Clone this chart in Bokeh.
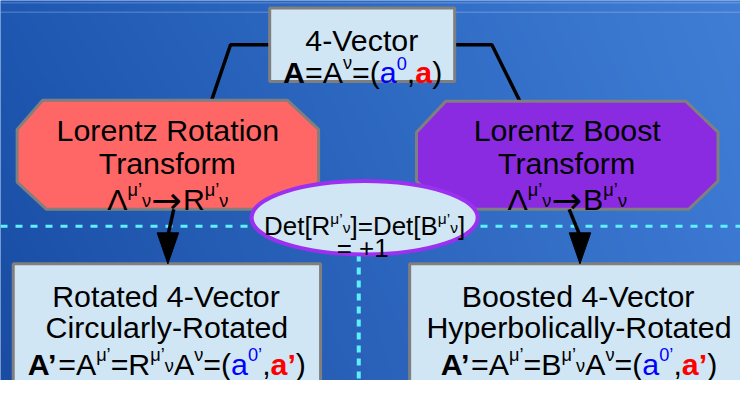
import numpy as np
from bokeh.plotting import figure
from bokeh.models import ColumnDataSource, Range1d
from bokeh.core.properties import value
from bokeh.embed import file_html
from bokeh.resources import INLINE

# ---------------- content (texts) ----------------
top_title = ["4-Vector"]
top_formula = [("A", "n", "k", 1), ("=A", "n", "k", 0), ("ν", "sup", "k", 0),
               ("=(", "n", "k", 0), ("a", "n", "b", 0), ("0", "sup", "b", 0),
               (",", "n", "k", 0), ("a", "n", "r", 1), (")", "n", "k", 0)]
rot_title = ["Lorentz Rotation", "Transform"]
rot_map = [("Λ", "n", "k", 0), ("μ’", "sup", "k", 0), ("ν", "sub", "k", 0),
           ("→", "arrow", "k", 0), ("R", "n", "k", 0), ("μ’", "sup", "k", 0),
           ("ν", "sub", "k", 0)]
boost_title = ["Lorentz Boost", "Transform"]
boost_map = [("Λ", "n", "k", 0), ("μ’", "sup", "k", 0), ("ν", "sub", "k", 0),
             ("→", "arrow", "k", 0), ("B", "n", "k", 0), ("μ’", "sup", "k", 0),
             ("ν", "sub", "k", 0)]
det_line1 = [("Det[R", "n", "k", 0), ("μ’", "sup", "k", 0), ("ν", "sub", "k", 0),
             ("]=Det[B", "n", "k", 0), ("μ’", "sup", "k", 0), ("ν", "sub", "k", 0),
             ("]", "n", "k", 0)]
det_line2 = "= +1"
rot_result_title = ["Rotated 4-Vector", "Circularly-Rotated"]
rot_result = [("A’", "n", "k", 1), ("=A", "n", "k", 0), ("μ’", "sup", "k", 0),
              ("=R", "n", "k", 0), ("μ’", "sup", "k", 0), ("ν", "sub", "k", 0),
              ("A", "n", "k", 0), ("ν", "sup", "k", 0), ("=(", "n", "k", 0),
              ("a", "n", "b", 0), ("0’", "sup", "b", 0), (",", "n", "k", 0),
              ("a’", "n", "r", 1), (")", "n", "k", 0)]
boost_result_title = ["Boosted 4-Vector", "Hyperbolically-Rotated"]
boost_result = [("A’", "n", "k", 1), ("=A", "n", "k", 0), ("μ’", "sup", "k", 0),
                ("=B", "n", "k", 0), ("μ’", "sup", "k", 0), ("ν", "sub", "k", 0),
                ("A", "n", "k", 0), ("ν", "sup", "k", 0), ("=(", "n", "k", 0),
                ("a", "n", "b", 0), ("0’", "sup", "b", 0), (",", "n", "k", 0),
                ("a’", "n", "r", 1), (")", "n", "k", 0)]

# ---------------- styling / layout ----------------
W_REF, H_REF = 756, 396
Y_BOTTOM = -8
PW, PH = 740, 380
SX = PW / W_REF
FONT = "Liberation Sans"
ARROW_FONT = "DejaVu Sans"
COLORS = {"k": "#000000", "b": "#0000ff", "r": "#ff0000"}
BOX_FILL = "#d0e6f4"
BORDER = "#7f7f7f"
RED_FILL = "#ff6666"
PURPLE_FILL = "#8a2be2"
ELLIPSE_LINE = "#9b30f0"
DASH = "#5ff0ff"

REG = {' ': 278, '(': 333, ')': 333, '+': 584, ',': 278, '-': 333, '=': 584,
       '[': 278, ']': 278, 'A': 667, 'B': 667, 'C': 722, 'D': 722, 'H': 722,
       'L': 556, 'R': 722, 'T': 611, 'V': 667, 'a': 556, 'b': 556, 'c': 500,
       'd': 556, 'e': 556, 'f': 278, 'h': 556, 'i': 222, 'l': 222, 'm': 833,
       'n': 556, 'o': 556, 'p': 556, 'r': 333, 's': 500, 't': 278, 'u': 556,
       'v': 500, 'y': 500, 'z': 500, 'μ': 576, 'ν': 500, 'Λ': 667,
       '’': 222}
BOLD = {'A': 722, 'a': 556, '’': 278}
for d in "0123456789":
    REG[d] = 556


def Y(y):
    return H_REF - y


def cw(ch, bold):
    if bold and ch in BOLD:
        return BOLD[ch]
    return REG.get(ch, 556)


src = {"x": [], "y": [], "text": [], "size": [], "color": [], "style": [], "font": []}


def layout(runs, cx, base, F):
    if isinstance(runs, str):
        runs = [(runs, "n", "k", 0)]
    items = []
    total = 0.0
    for t, kind, col, bold in runs:
        if kind == "n":
            fs = F
            w = sum(cw(c, bold) for c in t) * fs / 1000.0
        elif kind == "arrow":
            fs = F * 1.2
            w = 0.838 * fs + 0.04 * F
        else:
            fs = F * 0.6
            w = sum(cw(c, bold) for c in t) * fs / 1000.0
        items.append((t, kind, col, bold, fs, w))
        total += w
    x = cx - total / 2.0
    for t, kind, col, bold, fs, w in items:
        dy = 0.0
        if kind == "sup":
            dy = 0.33 * F
        elif kind == "sub":
            dy = -0.05 * F
        elif kind == "arrow":
            dy = -0.02 * F
        src["x"].append(x)
        src["y"].append(Y(base) + dy)
        src["text"].append(t)
        src["size"].append(f"{fs * SX:.2f}px")
        src["color"].append(COLORS[col])
        src["style"].append("bold" if bold else "normal")
        src["font"].append(ARROW_FONT if kind == "arrow" else FONT)
        x += w


p = figure(width=PW, height=PH, x_range=Range1d(0, W_REF), y_range=Range1d(Y_BOTTOM, H_REF),
           output_backend="svg", toolbar_location=None, min_border=0)
p.axis.visible = False
p.grid.visible = False
p.outline_line_color = None
p.background_fill_color = "#2a66c4"
p.border_fill_color = "#2a66c4"

# background gradient
GH, GW = 202, 378
yy = np.linspace(0, 1, GH)[:, None]
xx = np.linspace(0, 1, GW)[None, :]
TL = np.array([30, 88, 178]); TR = np.array([64, 126, 214])
BL = np.array([26, 76, 162]); BR = np.array([58, 118, 208])
img = np.empty((GH, GW), dtype=np.uint32)
view = img.view(dtype=np.uint8).reshape((GH, GW, 4))
for ch in range(3):
    c = (BL[ch] * (1 - xx) * (1 - yy) + BR[ch] * xx * (1 - yy)
         + TL[ch] * (1 - xx) * yy + TR[ch] * xx * yy)
    view[:, :, ch] = np.clip(c, 0, 255).astype(np.uint8)
view[:, :, 3] = 255
p.image_rgba(image=[img], x=0, y=Y_BOTTOM, dw=W_REF, dh=H_REF - Y_BOTTOM)

# faint stripes at top
for sy in (2.5, 12.5):
    p.line([0, W_REF], [Y(sy), Y(sy)], line_color="white", line_alpha=0.18, line_width=1.5)

# dashed guide lines
p.line([0, W_REF], [Y(240), Y(240)], line_color=DASH, line_width=3, line_dash="7 8")
p.line([366, 366], [Y(270), Y(410)], line_color=DASH, line_width=4, line_dash="7 6")

# connectors from top box
p.line([275, 235, 215], [Y(47), Y(47), Y(108)], line_color="black", line_width=3.5)
p.line([464, 502, 531], [Y(47), Y(47), Y(108)], line_color="black", line_width=3.5)

# boxes
p.quad(left=[275], right=[464], top=[Y(8)], bottom=[Y(86)],
       fill_color=BOX_FILL, line_color=BORDER, line_width=3)
p.quad(left=[13, 418], right=[327, 775], top=[Y(280), Y(280)], bottom=[Y(420), Y(420)],
       fill_color=BOX_FILL, line_color=BORDER, line_width=3)

# octagons
p.patch([43, 293, 325, 325, 295, 47, 17, 17],
        [Y(106), Y(106), Y(137), Y(193), Y(222), Y(222), Y(193), Y(137)],
        fill_color=RED_FILL, line_color=BORDER, line_width=3)
p.patch([455, 700, 733, 733, 703, 455, 425, 425],
        [Y(107), Y(107), Y(140), Y(192), Y(222), Y(222), Y(192), Y(140)],
        fill_color=PURPLE_FILL, line_color=BORDER, line_width=3)

# arrows
p.line([177, 171], [Y(222), Y(250)], line_color="black", line_width=3.5)
p.patch([160, 182, 171], [Y(247), Y(247), Y(280)], fill_color="black", line_color="black")
p.line([581, 592], [Y(222), Y(250)], line_color="black", line_width=3.5)
p.patch([581, 603, 592], [Y(247), Y(247), Y(280)], fill_color="black", line_color="black")

# ellipse
p.ellipse(x=[372], y=[Y(231)], width=[231], height=[78],
          fill_color=BOX_FILL, line_color=ELLIPSE_LINE, line_width=4)

# texts
layout(top_title[0], 370, 42, 31)
layout(top_formula, 370, 77, 31)
layout(rot_title[0], 171, 138, 31)
layout(rot_title[1], 171, 173, 31)
layout(rot_map, 171, 212, 31)
layout(boost_title[0], 579, 138, 31)
layout(boost_title[1], 579, 173, 31)
layout(boost_map, 579, 212, 31)
layout(det_line1, 372, 240, 26.5)
layout(det_line2, 370, 263, 26.5)
layout(rot_result_title[0], 170, 315, 31)
layout(rot_result_title[1], 170, 348, 31)
layout(rot_result, 170, 387, 31)
layout(boost_result_title[0], 591, 315, 31)
layout(boost_result_title[1], 591, 348, 31)
layout(boost_result, 591, 387, 31)

p.text(x="x", y="y", text="text", source=ColumnDataSource(src),
       text_font="font", text_font_size="size", text_color="color",
       text_font_style="style", text_align="left", text_baseline="alphabetic")

open("out.html", "w").write(file_html(p, INLINE))
